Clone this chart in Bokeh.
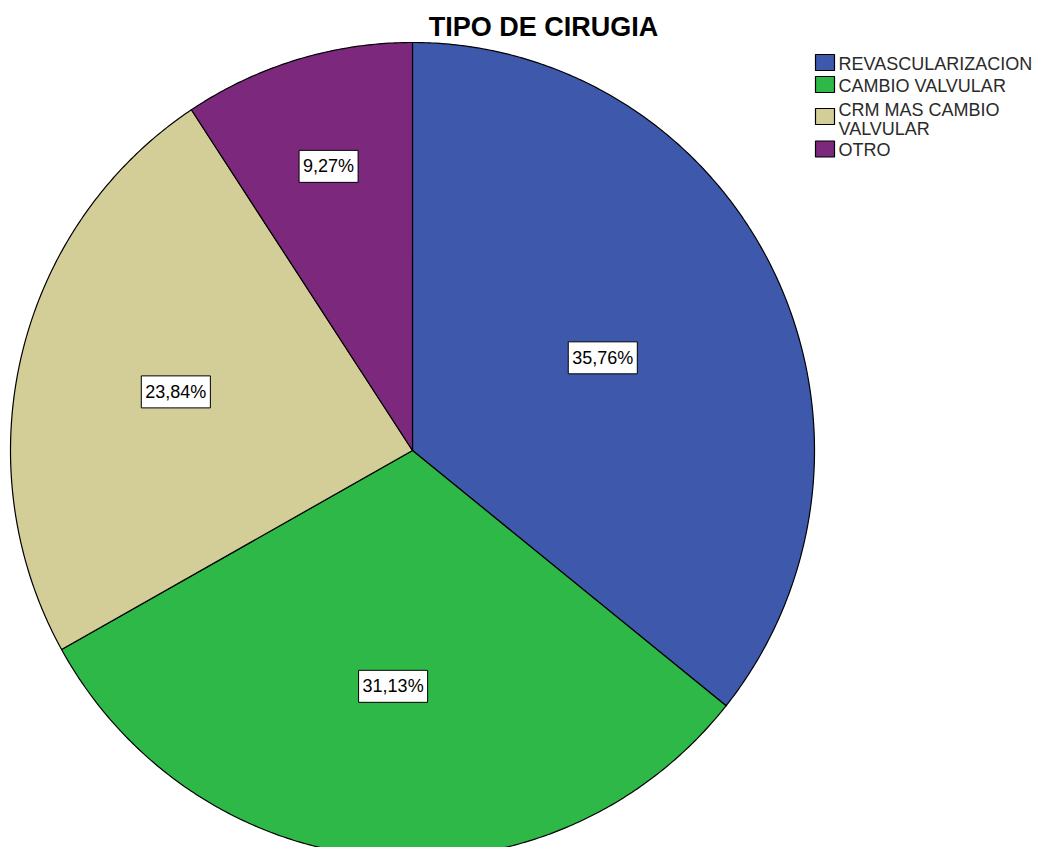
import math
from bokeh.plotting import figure
from bokeh.models import Range1d, ColumnDataSource
from bokeh.core.properties import value
from bokeh.embed import file_html
from bokeh.resources import INLINE

# ---- data ----
title_text = "TIPO DE CIRUGIA"
categories = ["REVASCULARIZACION", "CAMBIO VALVULAR", "CRM MAS CAMBIO\nVALVULAR", "OTRO"]
percentages = [35.76, 31.13, 23.84, 9.27]
colors = ["#3E58AC", "#2EB848", "#D3CE97", "#7C287D"]

# ---- layout constants (pixels) ----
W, H = 1037, 847
CX, CY, RX, RY = 412, 450, 402, 408
label_frac = [0.525, 0.58, 0.606, 0.727]
FONT = "Liberation Sans"

def fy(ypix):
    return H - ypix

p = figure(width=W, height=H, x_range=Range1d(0, W), y_range=Range1d(0, H),
           output_backend="svg", toolbar_location=None,
           x_axis_location=None, y_axis_location=None, min_border=0)
p.outline_line_color = None
p.grid.visible = False
p.background_fill_color = "white"
p.border_fill_color = "white"

total = sum(percentages)
xs, ys, lx, ly, ltxt = [], [], [], [], []
cum = 0.0
for i, v in enumerate(percentages):
    a0 = math.pi / 2 - 2 * math.pi * cum / total
    a1 = math.pi / 2 - 2 * math.pi * (cum + v) / total
    n = max(8, int(abs(a1 - a0) * 120))
    px = [CX]
    py = [fy(CY)]
    for k in range(n + 1):
        a = a0 + (a1 - a0) * k / n
        px.append(CX + RX * math.cos(a))
        py.append(fy(CY) + RY * math.sin(a))
    xs.append(px)
    ys.append(py)
    mid = (a0 + a1) / 2
    lx.append(CX + label_frac[i] * RX * math.cos(mid))
    ly.append(fy(CY) + label_frac[i] * RY * math.sin(mid))
    ltxt.append(f"{v:.2f}%".replace(".", ","))
    cum += v

pie_src = ColumnDataSource(dict(xs=xs, ys=ys, color=colors))
p.patches(xs="xs", ys="ys", fill_color="color", line_color="black", line_width=1.2,
          line_join="round", source=pie_src)

lab_src = ColumnDataSource(dict(lx=lx, ly=ly, txt=ltxt))
p.text(x="lx", y="ly", text="txt", source=lab_src, text_align="center",
       text_baseline="middle", text_font=value(FONT), text_font_size="18px",
       text_color="black", background_fill_color="white",
       border_line_color="black", border_line_width=1,
       padding=dict(left=4, right=4, top=6, bottom=6))

# title
p.text(x=[543], y=[fy(26)], text=[title_text], text_font=value(FONT), text_font_size="27px",
       text_font_style="bold", text_align="center", text_baseline="middle", text_color="black")

# legend
sq_y = [62, 84, 116, 148.5]
txt_y = [63.5, 85, 119, 149]
p.rect(x=[824.5] * 4, y=[fy(v) for v in sq_y], width=19, height=16,
       fill_color=colors, line_color="black", line_width=1.2)
p.text(x=[838] * 4, y=[fy(v) for v in txt_y], text=categories, text_font=value(FONT),
       text_font_size="18px", text_align="left", text_baseline="middle",
       text_line_height=0.97, text_color="#2a2a2a")

open("out.html", "w").write(file_html(p, INLINE))
